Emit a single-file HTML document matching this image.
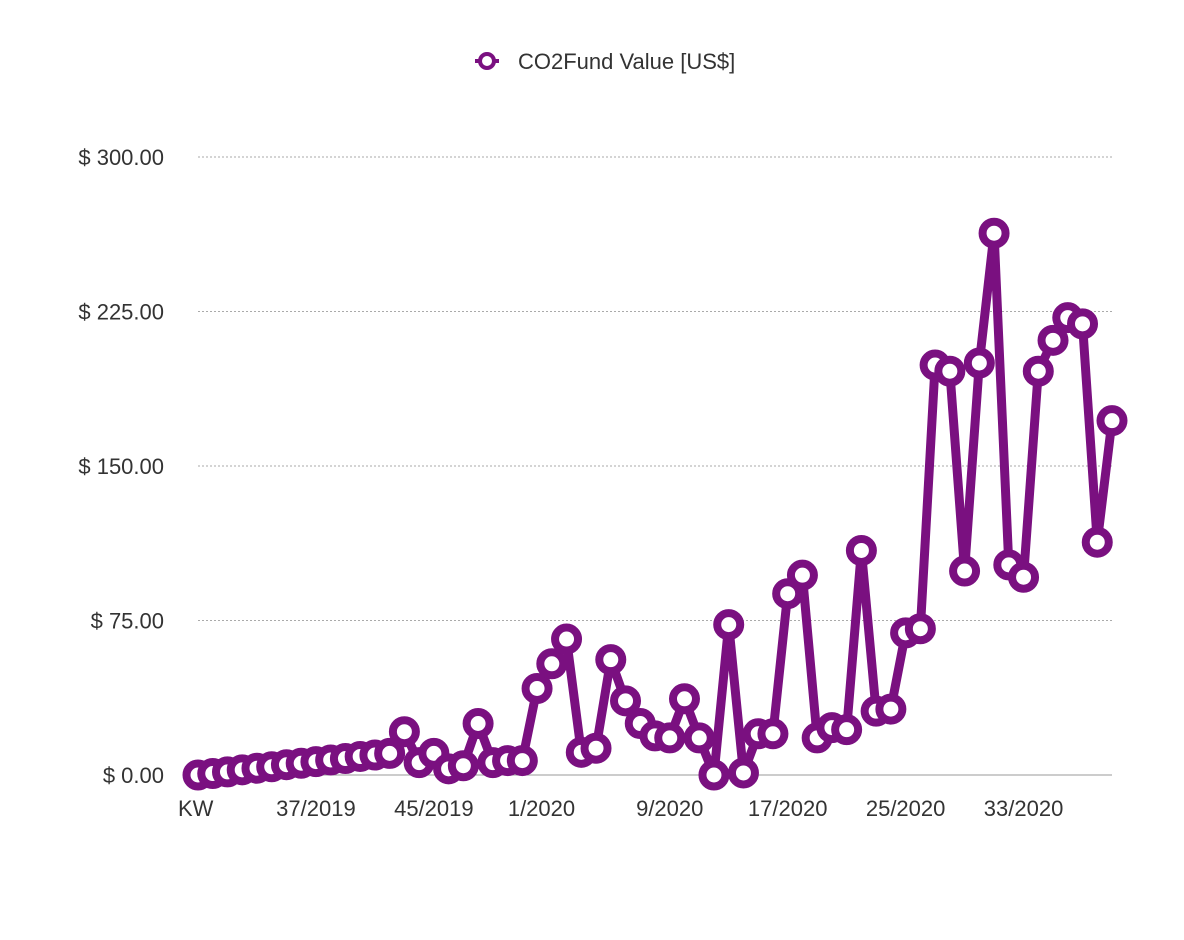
<!DOCTYPE html>
<html><head><meta charset="utf-8">
<style>
html,body{margin:0;padding:0;background:#fff;}
svg{display:block;font-family:"Liberation Sans",sans-serif;}
</style></head>
<body>
<svg id="chart" width="1184" height="940">
  <g id="grid"></g>
  <g id="yaxis"></g>
  <g id="xaxis"></g>
  <g id="series"></g>
  <g>
    <line x1="475" y1="61" x2="499" y2="61" stroke="#7a1080" stroke-width="4"/>
    <circle cx="487" cy="61" r="7" fill="#fff" stroke="#7a1080" stroke-width="4"/>
    <text x="518" y="69" font-size="22" fill="#333">CO2Fund Value [US$]</text>
  </g>
</svg>
<script>
const values = [0,0.7,1.5,2.5,3.3,4,5,5.7,6.5,7.3,8,9,9.7,10.5,21,6,10.5,3,4.5,25,6,7,7,42,54,66,11,13,56,36,25,19,18,37,18,0,73,1,20,20,88,97,18,23,22,109,31,32,69,71,199,196,99,200,263,102,96,196,211,222,219,113,172];
const tickIndex = [0,8,16,23.3,32,40,48,56];
const tickLabels = ["KW","37/2019","45/2019","1/2020","9/2020","17/2020","25/2020","33/2020"];
const yTicks = [0,75,150,225,300];
const yLabels = ["$ 0.00","$ 75.00","$ 150.00","$ 225.00","$ 300.00"];

const NS="http://www.w3.org/2000/svg";
const x0=198,x1=1112,y0=775,y300=157;
const xs=i=>x0+i*(x1-x0)/(values.length-1);
const ys=v=>y0-(v/300)*(y0-y300);
function mk(tag,attrs,parent){const e=document.createElementNS(NS,tag);for(const k in attrs)e.setAttribute(k,attrs[k]);parent.appendChild(e);return e;}
const grid=document.getElementById('grid'),ya=document.getElementById('yaxis'),xa=document.getElementById('xaxis'),ser=document.getElementById('series');
yTicks.forEach((t,i)=>{
  const l=mk('line',{x1:198,x2:1112,y1:ys(t),y2:ys(t),stroke:t===0?'#999':'#aaa','stroke-width':1,'stroke-dasharray':t===0?'none':'2,2'},grid);
  
  
  const tx=mk('text',{x:164,y:ys(t)+8,'text-anchor':'end','font-size':22,fill:'#333'},ya);
  tx.textContent=yLabels[i];
  
  
});
tickIndex.forEach((ix,i)=>{
  const tx=mk('text',{x:i===0?178:xs(ix),y:816,'text-anchor':i===0?'start':'middle','font-size':22,fill:'#333'},xa);
  tx.textContent=tickLabels[i];
  
  
});
const pl=mk('polyline',{points:values.map((v,i)=>xs(i)+','+ys(v)).join(' '),fill:'none',stroke:'#7a1080','stroke-width':9,'stroke-linejoin':'round'},ser);


values.forEach((v,i)=>{
  const c=mk('circle',{cx:xs(i),cy:ys(v),r:11.5,fill:'#fff',stroke:'#7a1080','stroke-width':8},ser);
  
  
});
</script>
</body></html>
